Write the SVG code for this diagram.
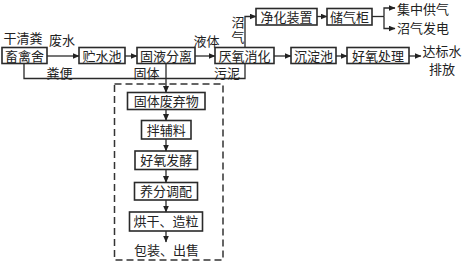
<svg xmlns="http://www.w3.org/2000/svg" width="465" height="266" viewBox="0 0 465 266">
<defs>
<marker id="ah" markerWidth="7" markerHeight="6" refX="6.5" refY="3" orient="auto" markerUnits="userSpaceOnUse">
<path d="M0,0 L7,3 L0,6 Z" fill="#222"/>
</marker>
<style>
.b{fill:#fff;stroke:#2a2a2a;stroke-width:1.6}
.t{font-family:"Noto Sans CJK SC","Noto Sans CJK JP",sans-serif;font-size:13px;fill:#222;text-anchor:middle}
.s{font-family:"Noto Sans CJK SC","Noto Sans CJK JP",sans-serif;font-size:13px;fill:#222}
.v{font-family:"Noto Sans CJK SC","Noto Sans CJK JP",sans-serif;font-size:13px;fill:#222;writing-mode:vertical-rl;letter-spacing:2px}
.c{fill:none;stroke:#2a2a2a;stroke-width:1.3}
.a{fill:none;stroke:#2a2a2a;stroke-width:1.3;marker-end:url(#ah)}
.d{fill:none;stroke:#333;stroke-width:1.5;stroke-dasharray:7,4}
</style>
</defs>
<rect width="465" height="266" fill="#fff"/>
<rect class="d" x="114.5" y="84" width="108.5" height="176"/>
<g id="connectors">
<line class="a" x1="47" y1="56" x2="79" y2="56"/>
<line class="a" x1="125" y1="56" x2="137" y2="56"/>
<line class="a" x1="195" y1="56" x2="215" y2="56"/>
<line class="a" x1="274" y1="56" x2="291" y2="56"/>
<line class="a" x1="336" y1="56" x2="347" y2="56"/>
<line class="a" x1="409" y1="56" x2="421" y2="56"/>
<polyline class="a" points="245,47.5 245,16.5 256,16.5"/>
<line class="a" x1="317" y1="16.5" x2="327" y2="16.5"/>
<polyline class="c" points="372,16.5 384,16.5"/>
<polyline class="a" points="384,16.5 384,8 395,8"/>
<polyline class="a" points="384,16.5 384,28.5 395,28.5"/>
<polyline class="c" points="24,63.5 24,78.5 245,78.5 245,63.5"/>
<line class="a" x1="166" y1="63.5" x2="166" y2="92.5"/>
<line class="a" x1="166" y1="109.5" x2="166" y2="120.5"/>
<line class="a" x1="166" y1="139" x2="166" y2="151"/>
<line class="a" x1="166" y1="169.5" x2="166" y2="182.5"/>
<line class="a" x1="166" y1="200" x2="166" y2="212"/>
<line class="a" x1="166" y1="231" x2="166" y2="242"/>
</g>
<g id="labels">
<text class="t" x="23" y="43">干清粪</text>
<text class="t" x="62" y="45">废水</text>
<text class="t" x="59.5" y="77.5">粪便</text>
<text class="t" x="146.5" y="77.5">固体</text>
<text class="t" x="206.5" y="46">液体</text>
<text class="t" x="227" y="77.5">污泥</text>
<text class="v" x="238" y="16">沼气</text>
<text class="s" x="397" y="14">集中供气</text>
<text class="s" x="397" y="32.5">沼气发电</text>
<text class="t" x="442" y="56">达标水</text>
<text class="t" x="442" y="74">排放</text>
<text class="t" x="166.5" y="255">包装、出售</text>
</g>
<g id="n1"><rect class="b" x="2" y="47.5" width="45" height="16"/><text class="t" x="24.5" y="60.5">畜禽舍</text></g>
<g id="n2"><rect class="b" x="79" y="47.5" width="46" height="16"/><text class="t" x="102" y="60.5">贮水池</text></g>
<g id="n3"><rect class="b" x="137" y="47.5" width="58" height="16"/><text class="t" x="166" y="60.5">固液分离</text></g>
<g id="n4"><rect class="b" x="215" y="47.5" width="59" height="16"/><text class="t" x="244.5" y="60.5">厌氧消化</text></g>
<g id="n5"><rect class="b" x="291" y="47.5" width="45" height="16"/><text class="t" x="313.5" y="60.5">沉淀池</text></g>
<g id="n6"><rect class="b" x="347" y="47.5" width="62" height="16"/><text class="t" x="378" y="60.5">好氧处理</text></g>
<g id="n7"><rect class="b" x="256" y="8.5" width="61" height="16.5"/><text class="t" x="286.5" y="21.6">净化装置</text></g>
<g id="n8"><rect class="b" x="327" y="8.5" width="45" height="16.5"/><text class="t" x="349.5" y="21.6">储气柜</text></g>
<g id="n9"><rect class="b" x="127.5" y="92.5" width="77.5" height="17"/><text class="t" x="166.2" y="105.9">固体废弃物</text></g>
<g id="n10"><rect class="b" x="141.5" y="120.5" width="49.5" height="18.5"/><text class="t" x="166.2" y="134.7">拌辅料</text></g>
<g id="n11"><rect class="b" x="135" y="151" width="62.5" height="18.5"/><text class="t" x="166.2" y="165.2">好氧发酵</text></g>
<g id="n12"><rect class="b" x="134.5" y="182.5" width="63" height="17.5"/><text class="t" x="166" y="196.2">养分调配</text></g>
<g id="n13"><rect class="b" x="129.5" y="212" width="73" height="19"/><text class="t" x="166" y="226.4">烘干、造粒</text></g>
</svg>
